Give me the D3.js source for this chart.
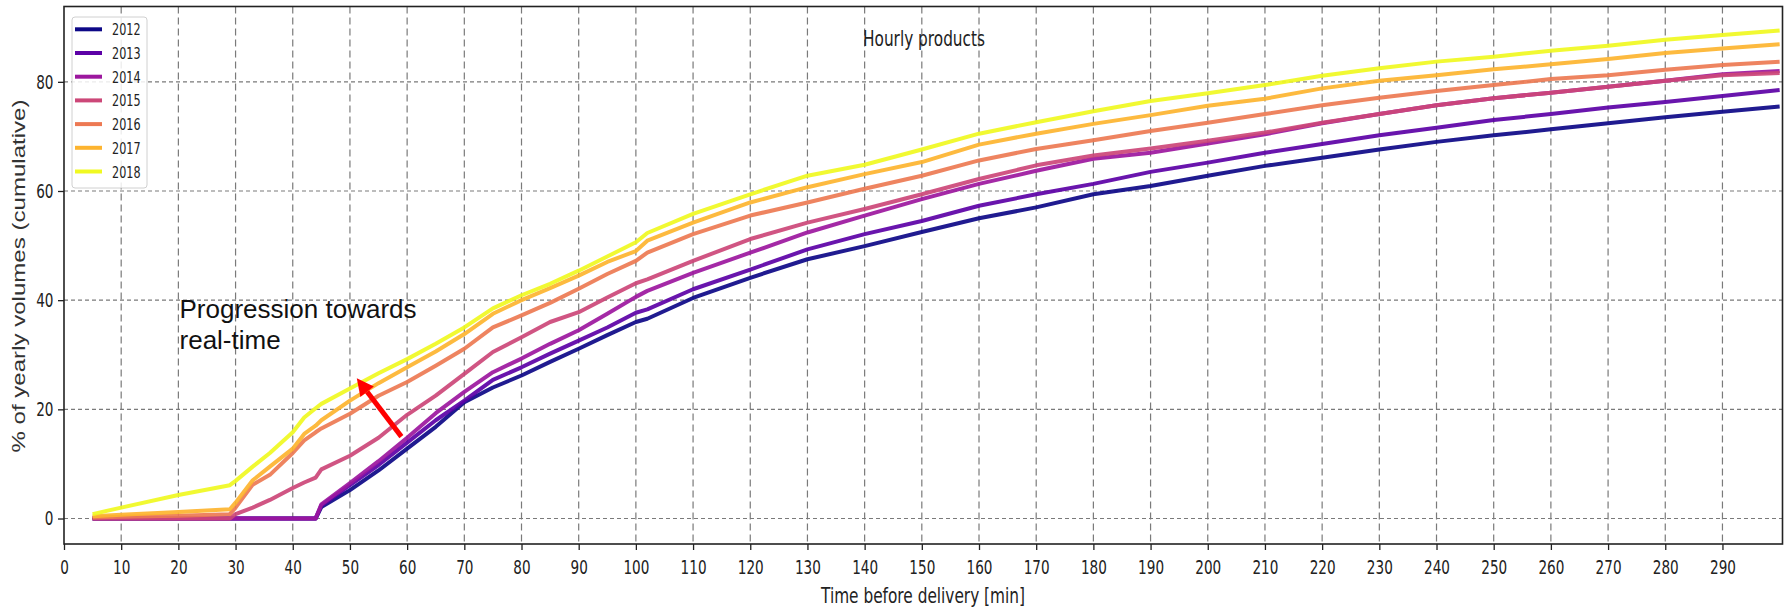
<!DOCTYPE html>
<html>
<head>
<meta charset="utf-8">
<title>Hourly products</title>
<style>
  body { margin: 0; background: #fff; }
  svg { display: block; }
</style>
</head>
<body>
<script src="https://d3js.org/d3.v7.min.js"></script>
<script>
// minutes before delivery (x) and cumulative % of yearly volume per year
var minutes = [5, 10, 20, 29, 30, 33, 36, 40, 42, 44, 45, 50, 55, 60, 65, 70, 75, 80, 85, 90,
  95, 100, 102, 110, 120, 130, 140, 150, 160, 170, 180, 190, 200, 210, 220, 230, 240, 250, 260, 270,
  280, 290, 300]
var years = ['2012', '2013', '2014', '2015', '2016', '2017', '2018']

var v2012 = [0, 0, 0, 0, 0, 0, 0, 0, 0, 0, 2.1, 5.2, 8.8, 12.8, 16.8, 21.3, 24, 26.2, 28.7, 31.1,
  33.6, 36, 36.6, 40.4, 44.1, 47.5, 49.9, 52.5, 55, 57, 59.4, 60.9, 62.8, 64.6, 66.1, 67.6, 69, 70.2, 71.3, 72.4,
  73.5, 74.5, 75.5]
var v2013 = [0, 0, 0, 0, 0, 0, 0, 0, 0, 0, 2.4, 6.1, 9.8, 13.9, 18, 21.6, 25.4, 27.7, 30.2, 32.6,
  35, 37.7, 38.3, 42, 45.6, 49.3, 52.1, 54.5, 57.3, 59.4, 61.3, 63.5, 65.2, 67, 68.6, 70.2, 71.6, 73, 74.1, 75.3,
  76.3, 77.4, 78.5]
var v2014 = [0, 0, 0, 0, 0, 0, 0, 0, 0, 0, 2.6, 6.5, 10.5, 14.8, 19.3, 23.2, 26.8, 29.3, 32, 34.5,
  37.5, 40.6, 41.7, 45, 48.7, 52.4, 55.5, 58.5, 61.3, 63.7, 65.9, 67, 68.7, 70.4, 72.4, 74.1, 75.7, 77, 78, 79.1,
  80.2, 81.4, 82]
var v2015 = [0, 0, 0, 0, 0.8, 2, 3.4, 5.6, 6.6, 7.5, 9, 11.5, 14.8, 19, 22.5, 26.5, 30.5, 33.2, 36, 37.8,
  40.5, 43.1, 43.8, 47.2, 51.2, 54.2, 56.7, 59.4, 62.2, 64.7, 66.5, 67.8, 69.2, 70.7, 72.5, 74.1, 75.7, 77, 78, 79.1,
  80.2, 81.2, 81.6]
var v2016 = [0.2, 0.3, 0.5, 0.8, 2, 6.2, 8, 12, 14.3, 15.8, 16.5, 19.2, 22.5, 25, 28, 31.1, 35, 37.2, 39.5, 42.1,
  44.8, 47.2, 48.7, 52.1, 55.5, 57.9, 60.4, 62.8, 65.6, 67.7, 69.3, 71, 72.5, 74.1, 75.7, 77.1, 78.3, 79.4, 80.5, 81.2,
  82.2, 83.1, 83.7]
var v2017 = [0.4, 0.7, 1.2, 1.7, 2.9, 7, 9.5, 12.8, 15.5, 17, 18, 21.6, 24.8, 27.7, 30.6, 33.8, 37.5, 40, 42.2, 44.5,
  47, 49, 50.9, 54.2, 57.9, 60.7, 63.1, 65.3, 68.5, 70.5, 72.3, 73.9, 75.6, 76.9, 78.8, 80.2, 81.2, 82.3, 83.2, 84.2,
  85.3, 86.1, 86.9]
var v2018 = [0.8, 2, 4.3, 6.1, 6.9, 9.5, 12, 15.8, 18.5, 20.2, 21, 23.8, 26.6, 29.2, 32, 35, 38.5, 40.9, 43, 45.4,
  48, 50.6, 52.3, 55.8, 59.4, 62.8, 64.8, 67.6, 70.5, 72.6, 74.6, 76.5, 77.9, 79.4, 81.1, 82.5, 83.7, 84.6, 85.7, 86.6,
  87.7, 88.6, 89.4]

var xTicks = d3.range(0, 300, 10)
var yTicks = [0, 20, 40, 60, 80]

var series = [v2012, v2013, v2014, v2015, v2016, v2017, v2018]

var width = 1785
var height = 607
var padding = {left: 64, right: 2.5, top: 6.5, bottom: 63}
var squish = 0.68   // the picture's matplotlib text is narrow

var svg = d3.select('body')
  .append('svg')
  .attr('width', width)
  .attr('height', height)

var x = d3.scaleLinear()
  .domain([0, 300.5])
  .range([padding.left, width - padding.right])
var y = d3.scaleLinear()
  .domain([-4.67, 93.8])
  .range([height - padding.bottom, padding.top])

var color = function(i) { return d3.interpolatePlasma(i / 6) }

// grid
var grid = svg.append('g')
grid.selectAll('.gx')
  .data(xTicks.filter(function(d) { return d > 0 }))
  .enter()
  .append('line')
  .attr('x1', function(d) { return x(d) })
  .attr('x2', function(d) { return x(d) })
  .attr('y1', y.range()[1])
  .attr('y2', y.range()[0])
  .attr('stroke', '#7a7a7a')
  .attr('stroke-width', 1.2)
  .attr('stroke-dasharray', '7,4')
grid.selectAll('.gy')
  .data(yTicks)
  .enter()
  .append('line')
  .attr('x1', x.range()[0])
  .attr('x2', x.range()[1])
  .attr('y1', function(d) { return y(d) })
  .attr('y2', function(d) { return y(d) })
  .attr('stroke', '#7a7a7a')
  .attr('stroke-width', 1.2)
  .attr('stroke-dasharray', '4,3')

// lines
var line = d3.line()
  .x(function(d) { return x(d[0]) })
  .y(function(d) { return y(d[1]) })

svg.append('g')
  .selectAll('path')
  .data(series)
  .enter()
  .append('path')
  .attr('d', function(vals) {
    return line(vals.map(function(v, i) { return [minutes[i], v] }))
  })
  .attr('fill', 'none')
  .attr('stroke', function(d, i) { return color(i) })
  .attr('stroke-width', 4)
  .attr('stroke-linejoin', 'round')
  .attr('stroke-opacity', 0.92)

// axes
var xAxis = svg.append('g')
  .attr('transform', 'translate(0,' + y.range()[0] + ')')
  .call(d3.axisBottom(x).tickValues(xTicks).tickSize(6).tickPadding(10))
var yAxis = svg.append('g')
  .attr('transform', 'translate(' + x.range()[0] + ',0)')
  .call(d3.axisLeft(y).tickValues(yTicks).tickSize(6).tickPadding(4))

xAxis.select('.domain').remove()
yAxis.select('.domain').remove()
svg.selectAll('.tick line').attr('stroke', '#222').attr('stroke-width', 1.3)
svg.selectAll('.tick text')
  .attr('font-family', 'DejaVu Sans')
  .attr('font-size', 20)
  .attr('fill', '#222')
  .attr('transform', 'scale(' + squish + ',1)')
yAxis.selectAll('.tick text').attr('x', -15.5)

// frame
svg.append('rect')
  .attr('x', x.range()[0])
  .attr('y', y.range()[1])
  .attr('width', x.range()[1] - x.range()[0])
  .attr('height', y.range()[0] - y.range()[1])
  .attr('fill', 'none')
  .attr('stroke', '#222')
  .attr('stroke-width', 1.6)

// titles
svg.append('text')
  .attr('x', 924)
  .attr('y', 46)
  .attr('text-anchor', 'middle')
  .attr('font-family', 'DejaVu Sans')
  .attr('font-size', 22)
  .attr('fill', '#222')
  .attr('textLength', 122)
  .attr('lengthAdjust', 'spacingAndGlyphs')
  .text('Hourly products')

svg.append('text')
  .attr('x', 923)
  .attr('y', 603)
  .attr('text-anchor', 'middle')
  .attr('font-family', 'DejaVu Sans')
  .attr('font-size', 21)
  .attr('fill', '#222')
  .attr('textLength', 204)
  .attr('lengthAdjust', 'spacingAndGlyphs')
  .text('Time before delivery [min]')

svg.append('text')
  .attr('transform', 'translate(25,276) rotate(-90)')
  .attr('text-anchor', 'middle')
  .attr('font-family', 'Liberation Sans')
  .attr('font-size', 17.5)
  .attr('fill', '#333')
  .attr('textLength', 353)
  .attr('lengthAdjust', 'spacingAndGlyphs')
  .text('% of yearly volumes (cumulative)')

// legend
var legend = svg.append('g')
legend.append('rect')
  .attr('x', 72)
  .attr('y', 17)
  .attr('width', 75)
  .attr('height', 171)
  .attr('rx', 3)
  .attr('fill', '#fff')
  .attr('fill-opacity', 0.85)
  .attr('stroke', '#d0d0d0')
var items = legend.selectAll('.item')
  .data(years)
  .enter()
  .append('g')
  .attr('transform', function(d, i) { return 'translate(75,' + (29.3 + i * 23.7) + ')' })
items.append('line')
  .attr('x1', 0)
  .attr('x2', 27)
  .attr('stroke', function(d, i) { return color(i) })
  .attr('stroke-width', 4)
items.append('text')
  .attr('transform', 'translate(37,6) scale(' + squish + ',1)')
  .attr('font-family', 'DejaVu Sans')
  .attr('font-size', 16.5)
  .attr('fill', '#222')
  .text(function(d) { return d })

// annotation
var noteLines = ['Progression towards', 'real-time']
var noteAt = [20.2, 36.7]
var arrowFrom = [59, 15]
var arrowTo = [51.2, 25.7]

svg.append('g')
  .selectAll('text')
  .data(noteLines)
  .enter()
  .append('text')
  .attr('x', x(noteAt[0]))
  .attr('y', function(d, i) { return y(noteAt[1]) + i * 31 })
  .attr('font-family', 'Liberation Sans')
  .attr('font-size', 26)
  .attr('fill', '#111')
  .text(function(d) { return d })

var ax0 = x(arrowFrom[0]), ay0 = y(arrowFrom[1])
var ax1 = x(arrowTo[0]), ay1 = y(arrowTo[1])
var ang = Math.atan2(ay1 - ay0, ax1 - ax0)
var headLen = 17, headW = 8.5
var bx = ax1 - headLen * Math.cos(ang), by = ay1 - headLen * Math.sin(ang)
svg.append('line')
  .attr('x1', ax0).attr('y1', ay0)
  .attr('x2', bx).attr('y2', by)
  .attr('stroke', '#ff0000')
  .attr('stroke-width', 5)
svg.append('path')
  .attr('d', 'M' + ax1 + ',' + ay1 +
    'L' + (bx + headW * Math.sin(ang)) + ',' + (by - headW * Math.cos(ang)) +
    'L' + (bx - headW * Math.sin(ang)) + ',' + (by + headW * Math.cos(ang)) + 'Z')
  .attr('fill', '#ff0000')
</script>
</body>
</html>
